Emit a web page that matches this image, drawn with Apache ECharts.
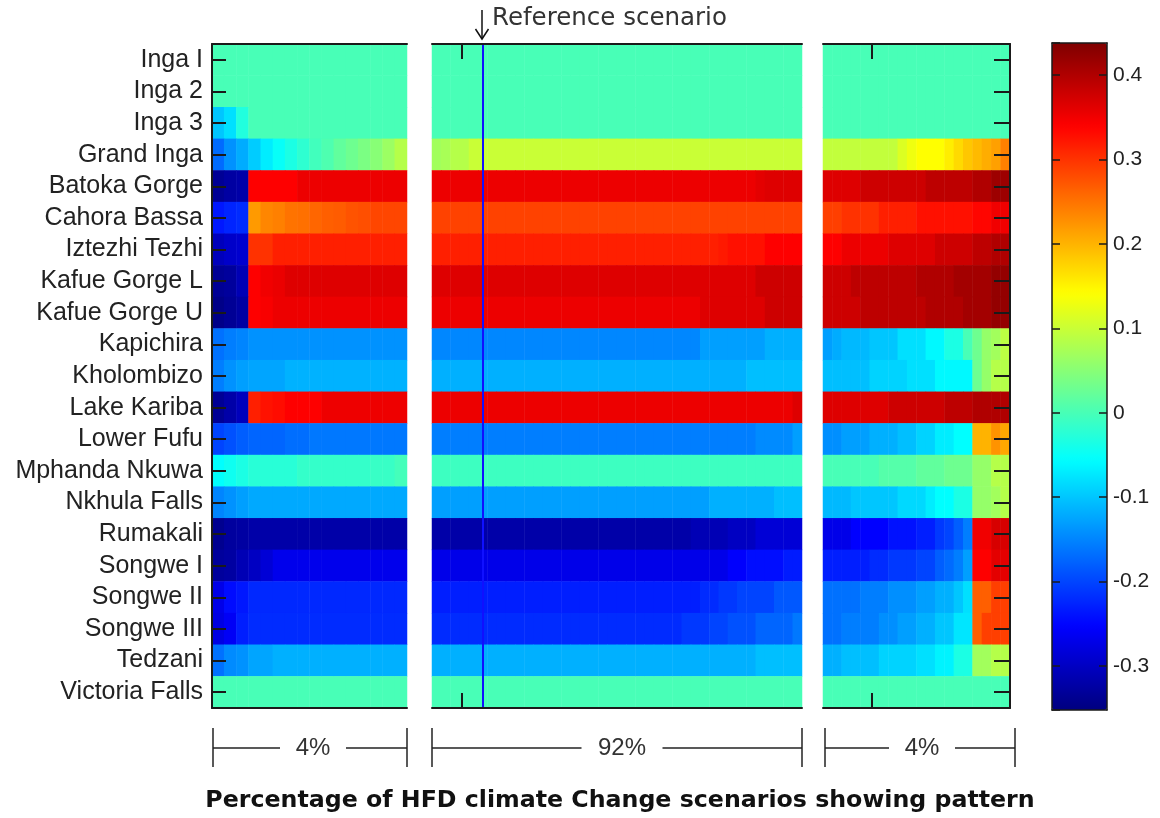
<!DOCTYPE html>
<html><head><meta charset="utf-8">
<script src="https://cdn.jsdelivr.net/npm/echarts@6/dist/echarts.min.js"></script>
<style>html,body{margin:0;padding:0;background:#fff}#c{width:1160px;height:818px}</style>
</head><body><div id="c"></div>
<script>
// ---- data ----
const stations = ['Inga I','Inga 2','Inga 3','Grand Inga','Batoka Gorge','Cahora Bassa','Iztezhi Tezhi','Kafue Gorge L','Kafue Gorge U','Kapichira','Kholombizo','Lake Kariba','Lower Fufu','Mphanda Nkuwa','Nkhula Falls','Rumakali','Songwe I','Songwe II','Songwe III','Tedzani','Victoria Falls'];
const panelShares = ['4%','92%','4%'];
const colorbarTicks = [-0.3,-0.2,-0.1,0,0.1,0.2,0.3,0.4];
const colorMin = -0.352;
const colorMax = 0.438;
const referenceColumn = 5;
const titleText = 'Percentage of HFD climate Change scenarios showing pattern';
const referenceText = 'Reference scenario';

// each row: runs of [number of columns, value]
const leftRuns = [
 [[16,0]],
 [[16,0]],
 [[1,-0.1],[1,-0.08],[1,-0.03],[13,0]],
 [[1,-0.17],[1,-0.14],[1,-0.12],[1,-0.095],[1,-0.07],[1,-0.05],[1,-0.035],[1,-0.02],[1,-0.005],[1,0.005],[1,0.02],[1,0.03],[1,0.04],[1,0.05],[1,0.065],[1,0.085]],
 [[1,-0.335],[1,-0.325],[1,-0.32],[4,0.34],[9,0.353]],
 [[1,-0.235],[1,-0.225],[1,-0.22],[1,0.22],[1,0.235],[1,0.24],[1,0.25],[1,0.252],[1,0.26],[1,0.265],[1,0.268],[1,0.275],[1,0.278],[3,0.285]],
 [[1,-0.305],[1,-0.295],[1,-0.29],[2,0.30],[11,0.315]],
 [[1,-0.335],[1,-0.33],[1,-0.31],[1,0.34],[1,0.35],[1,0.355],[10,0.365]],
 [[1,-0.345],[1,-0.335],[1,-0.325],[1,0.34],[1,0.345],[11,0.353]],
 [[1,-0.165],[1,-0.155],[1,-0.15],[13,-0.14]],
 [[1,-0.155],[1,-0.14],[1,-0.13],[3,-0.125],[10,-0.115]],
 [[1,-0.335],[1,-0.32],[1,-0.305],[1,0.315],[1,0.325],[1,0.33],[3,0.34],[7,0.352]],
 [[1,-0.2],[1,-0.19],[1,-0.18],[3,-0.175],[2,-0.168],[8,-0.16]],
 [[1,-0.055],[1,-0.045],[1,-0.035],[4,-0.025],[6,-0.015],[2,-0.012],[1,-0.003]],
 [[1,-0.15],[1,-0.14],[1,-0.13],[13,-0.122]],
 [[1,-0.34],[1,-0.328],[1,-0.325],[13,-0.32]],
 [[1,-0.33],[1,-0.325],[1,-0.31],[1,-0.3],[1,-0.285],[11,-0.268]],
 [[1,-0.27],[1,-0.245],[1,-0.235],[13,-0.222]],
 [[1,-0.275],[1,-0.26],[1,-0.23],[13,-0.22]],
 [[1,-0.165],[1,-0.145],[1,-0.14],[2,-0.125],[11,-0.117]],
 [[16,0]]
];
const middleRuns = [
 [[40,0]],
 [[40,0]],
 [[40,0]],
 [[1,0.07],[1,0.075],[2,0.085],[36,0.10]],
 [[35,0.353],[1,0.36],[4,0.365]],
 [[40,0.288]],
 [[31,0.315],[1,0.32],[4,0.327],[4,0.34]],
 [[35,0.365],[5,0.378]],
 [[29,0.353],[7,0.365],[4,0.378]],
 [[29,-0.148],[7,-0.13],[4,-0.117]],
 [[34,-0.117],[6,-0.105]],
 [[39,0.353],[1,0.365]],
 [[35,-0.155],[4,-0.145],[1,-0.13]],
 [[40,-0.008]],
 [[30,-0.13],[7,-0.117],[3,-0.105]],
 [[28,-0.32],[4,-0.31],[3,-0.30],[5,-0.285]],
 [[32,-0.27],[2,-0.255],[4,-0.243],[2,-0.232]],
 [[29,-0.23],[2,-0.22],[2,-0.21],[4,-0.2],[3,-0.185]],
 [[27,-0.22],[3,-0.21],[2,-0.2],[3,-0.19],[4,-0.175],[1,-0.16]],
 [[35,-0.117],[5,-0.105]],
 [[40,0]]
];
const rightRuns = [
 [[20,0]],
 [[20,0]],
 [[20,0]],
 [[8,0.095],[1,0.115],[1,0.13],[3,0.142],[1,0.155],[1,0.17],[1,0.185],[1,0.195],[1,0.205],[1,0.215],[1,0.24]],
 [[4,0.365],[7,0.378],[5,0.39],[2,0.40],[2,0.415]],
 [[2,0.29],[4,0.30],[4,0.315],[6,0.327],[2,0.335],[2,0.35]],
 [[2,0.34],[5,0.353],[5,0.365],[4,0.378],[2,0.39],[2,0.40]],
 [[3,0.378],[7,0.39],[4,0.40],[4,0.41],[2,0.422]],
 [[4,0.378],[7,0.39],[4,0.40],[3,0.41],[2,0.422]],
 [[1,-0.13],[1,-0.12],[3,-0.11],[3,-0.1],[3,-0.08],[2,-0.06],[2,-0.035],[1,0.0],[1,0.03],[1,0.06],[1,0.07],[1,0.09]],
 [[5,-0.105],[4,-0.09],[3,-0.08],[4,-0.06],[1,0.03],[1,0.06],[2,0.085]],
 [[7,0.365],[6,0.378],[3,0.39],[4,0.40]],
 [[2,-0.142],[3,-0.13],[3,-0.117],[2,-0.105],[2,-0.09],[2,-0.07],[2,-0.056],[2,0.2],[1,0.225],[1,0.21]],
 [[6,0.0],[4,0.01],[3,0.02],[3,0.03],[2,0.06],[2,0.085]],
 [[3,-0.11],[5,-0.1],[3,-0.085],[1,-0.07],[2,-0.056],[2,-0.035],[2,0.06],[1,0.07],[1,0.085]],
 [[3,-0.27],[4,-0.253],[3,-0.24],[2,-0.23],[1,-0.21],[1,-0.2],[1,-0.18],[1,-0.155],[2,0.35],[2,0.37]],
 [[5,-0.23],[2,-0.22],[3,-0.21],[2,-0.2],[1,-0.18],[1,-0.17],[1,-0.155],[1,-0.13],[2,0.34],[2,0.36]],
 [[4,-0.165],[3,-0.155],[3,-0.142],[2,-0.13],[2,-0.117],[1,-0.1],[1,-0.08],[2,0.265],[2,0.29]],
 [[2,-0.165],[4,-0.155],[2,-0.142],[2,-0.13],[2,-0.117],[2,-0.1],[2,-0.075],[1,0.265],[3,0.29]],
 [[2,-0.117],[4,-0.105],[4,-0.09],[2,-0.08],[2,-0.065],[2,-0.035],[2,0.07],[2,0.085]],
 [[20,0]]
];

// ---- build ----
const jet = ['#00007f','#0000ff','#007fff','#00ffff','#7fff7f','#ffff00','#ff7f00','#ff0000','#7f0000'];
function buildCells(runsList){
  const cells = [];
  runsList.forEach((runs,row)=>{
    let col = 0;
    runs.forEach(([n,v])=>{ for(let k=0;k<n;k++){ cells.push([col,row,v]); col++; } });
  });
  return cells;
}
function columnsOf(runsList){
  const n = runsList[0].reduce((s,r)=>s+r[0],0);
  return Array.from({length:n},(_,i)=>String(i));
}
const panels = [
  {runs:leftRuns, left:212, width:195},
  {runs:middleRuns, left:432, width:370},
  {runs:rightRuns, left:823, width:187}
];
const TOP = 44, H = 664;
const border = {show:true, onZero:false, lineStyle:{color:'#1a1a1a', width:2}};
const cbLine = {show:true, onZero:false, lineStyle:{color:'#1a1a1a', width:1.5}};
const grids = panels.map(p=>({left:p.left, top:TOP, width:p.width, height:H}));
grids.push({left:1052, top:43, width:55, height:667});

const xAxes = [];
panels.forEach((p,i)=>{
  ['bottom','top'].forEach(pos=>{
    xAxes.push({type:'category', gridIndex:i, position:pos, data:columnsOf(p.runs), z:10,
      axisLine:border, axisTick:{show:false}, axisLabel:{show:false}, splitLine:{show:false}});
  });
});
['bottom','top'].forEach(pos=>{
  xAxes.push({type:'value', gridIndex:3, position:pos, min:0, max:1, z:10,
    axisLine:cbLine, axisTick:{show:false}, axisLabel:{show:false}, splitLine:{show:false}});
});

const fmt = v => { const r = Math.round(v*10); if (Math.abs(v*10-r)>1e-6 || colorbarTicks.indexOf(r/10)<0) return ''; return String(r/10); };
const yAxes = [
  {type:'category', gridIndex:0, position:'left', inverse:true, data:stations, z:10,
   axisLine:border, axisTick:{show:true, inside:true, alignWithLabel:true, interval:0, length:14, lineStyle:{color:'#1a1a1a', width:2}},
   axisLabel:{show:true, interval:0, margin:9, fontFamily:'Liberation Sans, Arial, sans-serif', fontSize:25, color:'#222'}, splitLine:{show:false}},
  {type:'category', gridIndex:1, inverse:true, data:stations, show:false},
  {type:'category', gridIndex:2, position:'right', inverse:true, data:stations, z:10,
   axisLine:border, axisTick:{show:true, inside:true, alignWithLabel:true, interval:0, length:16, lineStyle:{color:'#1a1a1a', width:2}},
   axisLabel:{show:false}, splitLine:{show:false}},
  {type:'value', gridIndex:3, position:'left', min:colorMin, max:colorMax, splitNumber:8, z:10,
   axisLine:cbLine, axisTick:{show:true, inside:true, length:8, lineStyle:{color:'#1a1a1a', width:1.5}},
   axisLabel:{show:false}, splitLine:{show:false}},
  {type:'value', gridIndex:3, position:'right', min:colorMin, max:colorMax, splitNumber:8, z:10,
   axisLine:cbLine, axisTick:{show:true, inside:true, length:8, lineStyle:{color:'#1a1a1a', width:1.5}},
   axisLabel:{show:true, margin:6, formatter:fmt, showMinLabel:false, showMaxLabel:false, fontFamily:'Liberation Sans, Arial, sans-serif', fontSize:21, color:'#222'},
   splitLine:{show:false}}
];

const series = panels.map((p,i)=>({
  type:'heatmap', xAxisIndex:i*2, yAxisIndex:i, data:buildCells(p.runs),
  itemStyle:{borderWidth:0}, emphasis:{disabled:true}, progressive:0, animation:false
}));
series[1].markLine = {
  silent:true, symbol:['none','none'], animation:false,
  label:{show:false},
  lineStyle:{color:'#1010ff', width:2, type:'solid'},
  data:[{xAxis:String(referenceColumn)}]
};

// ---- decorations ----
const g = [];
const ink = '#222';
const brackets = [
  {x0:213, x1:407, cx:313},
  {x0:432, x1:802, cx:622},
  {x0:825, x1:1015, cx:922}
];
brackets.forEach((b,i)=>{
  const half = panelShares[i].length*7.5 + 18;
  g.push({type:'line', shape:{x1:b.x0,y1:728,x2:b.x0,y2:767}, style:{stroke:ink,lineWidth:1.5}});
  g.push({type:'line', shape:{x1:b.x1,y1:728,x2:b.x1,y2:767}, style:{stroke:ink,lineWidth:1.5}});
  g.push({type:'line', shape:{x1:b.x0,y1:748,x2:b.cx-half,y2:748}, style:{stroke:ink,lineWidth:1.5}});
  g.push({type:'line', shape:{x1:b.cx+half,y1:748,x2:b.x1,y2:748}, style:{stroke:ink,lineWidth:1.5}});
  g.push({type:'text', x:b.cx, y:748, style:{text:panelShares[i], fill:'#333', font:'24px "Liberation Sans", Arial, sans-serif', align:'center', verticalAlign:'middle'}});
});
// inner ticks on top/bottom of middle and right panels
[462, 872].forEach(x=>{
  g.push({type:'line', shape:{x1:x,y1:TOP,x2:x,y2:TOP+15}, style:{stroke:'#1a1a1a',lineWidth:2}, z:20});
  g.push({type:'line', shape:{x1:x,y1:TOP+H-15,x2:x,y2:TOP+H}, style:{stroke:'#1a1a1a',lineWidth:2}, z:20});
});
// reference arrow and text
g.push({type:'line', shape:{x1:482,y1:10,x2:482,y2:39}, style:{stroke:'#111',lineWidth:1.5}});
g.push({type:'polyline', shape:{points:[[475.5,29],[482,39],[488.5,29]]}, style:{stroke:'#111',lineWidth:1.5,fill:null}});
g.push({type:'text', x:492, y:19, style:{text:referenceText, fill:'#333', font:'24.5px "DejaVu Sans", Verdana, sans-serif', align:'left', verticalAlign:'middle'}});
// title
g.push({type:'text', x:620, y:801, style:{text:titleText, fill:'#111', font:'bold 23.7px "DejaVu Sans", Verdana, sans-serif', align:'center', verticalAlign:'middle'}});

const chart = echarts.init(document.getElementById('c'), null, {renderer:'canvas'});
chart.setOption({
  animation:false,
  backgroundColor:'#fff',
  grid:grids,
  xAxis:xAxes,
  yAxis:yAxes,
  visualMap:{type:'continuous', min:colorMin, max:colorMax, calculable:false, seriesIndex:[0,1,2],
    orient:'vertical', left:1052, top:43, itemWidth:55, itemHeight:667, padding:0, text:null,
    inRange:{color:jet}, hoverLink:false, z:2},
  series:series,
  graphic:g
});
</script></body></html>
